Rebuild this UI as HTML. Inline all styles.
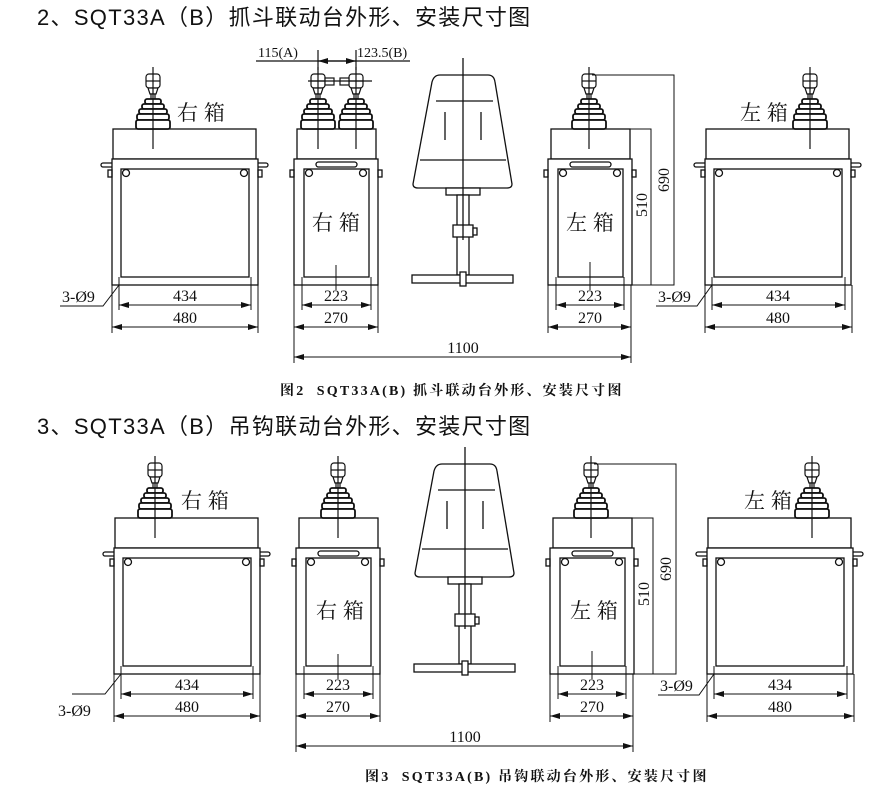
<!DOCTYPE html>
<html><head><meta charset="utf-8"><style>
html,body{margin:0;padding:0;background:#fff;}
svg{display:block;}
text{font-family:"Liberation Sans","Noto Sans CJK SC",sans-serif;fill:#111;}
.n{font-family:"Liberation Serif","Noto Serif CJK SC",serif;font-size:16px;}
.cn{font-family:"Liberation Sans","Noto Serif CJK SC",serif;font-size:21px;}
.cap{font-size:14px;font-weight:bold;letter-spacing:2.2px;font-family:'Liberation Serif','Noto Serif CJK SC',serif;}
.ttl{font-size:22px;letter-spacing:1.3px;}
</style></head><body>
<svg width="888" height="799" viewBox="0 0 888 799" xmlns="http://www.w3.org/2000/svg">
<defs>
<marker id="a" viewBox="0 0 10 6" refX="10" refY="3" markerWidth="10" markerHeight="6" orient="auto-start-reverse" markerUnits="userSpaceOnUse"><path d="M0,0L10,3L0,6z" fill="#111"/></marker>
<g id="joy" fill="#fff" stroke="#111" stroke-width="1.2">
  <rect x="-7" y="-55" width="14" height="14" rx="3"/>
  <line x1="-7" y1="-48" x2="7" y2="-48"/>
  <path d="M-5,-41 L5,-41 L3,-35 L-3,-35 Z"/>
  <rect x="-2" y="-35" width="4" height="5"/>
  <rect x="-8" y="-30" width="16" height="5" rx="2" stroke-width="1.8"/>
  <rect x="-11" y="-25" width="22" height="5" rx="2" stroke-width="1.8"/>
  <rect x="-14" y="-20" width="28" height="5" rx="2" stroke-width="1.8"/>
  <rect x="-16" y="-15" width="32" height="6" rx="2" stroke-width="1.8"/>
  <rect x="-17" y="-9" width="34" height="9" rx="2" stroke-width="1.8"/>
  <line x1="0" y1="-62" x2="0" y2="20"/>
</g>
<g id="big" fill="none" stroke="#111" stroke-width="1.3">
  <rect x="1" y="-30" width="143" height="30" fill="#fff"/>
  <rect x="-11" y="4" width="167" height="4" rx="2"/>
  <rect x="0" y="0" width="146" height="126" fill="#fff"/>
  <rect x="-4" y="11" width="4" height="7"/>
  <rect x="146" y="11" width="4" height="7"/>
  <rect x="9" y="10" width="128" height="108"/>
  <circle cx="14" cy="14" r="3.5"/>
  <circle cx="132" cy="14" r="3.5"/>
</g>
<g id="small" fill="none" stroke="#111" stroke-width="1.3">
  <rect x="3" y="-30" width="79" height="30" fill="#fff"/>
  <rect x="0" y="0" width="84" height="126" fill="#fff"/>
  <rect x="-4" y="11" width="4" height="7"/>
  <rect x="84" y="11" width="4" height="7"/>
  <rect x="10" y="10" width="65" height="108"/>
  <rect x="22" y="3" width="41" height="5" rx="2.5"/>
  <circle cx="15" cy="14" r="3.5"/>
  <circle cx="69" cy="14" r="3.5"/>
</g>
<g id="chair" fill="#fff" stroke="#111" stroke-width="1.3">
  <path d="M413,184 L432,82 Q434,75 440,75 L488,75 Q494,75 495,82 L512,184 Q512,188 507,188 L418,188 Q413,188 413,184 Z"/>
  <line x1="420" y1="160" x2="506" y2="160"/>
  <line x1="436" y1="101" x2="493" y2="101"/>
  <line x1="445" y1="112" x2="445" y2="140"/>
  <line x1="481" y1="112" x2="481" y2="140"/>
  <rect x="446" y="188" width="34" height="7"/>
  <rect x="457" y="195" width="12" height="80"/>
  <rect x="453" y="225" width="20" height="12"/>
  <rect x="473" y="228" width="4" height="7"/>
  <rect x="412" y="275" width="101" height="8"/>
  <rect x="460" y="272" width="6" height="14"/>
  <line x1="463" y1="58" x2="463" y2="240"/>
</g>
<g id="common" fill="none" stroke="#111" stroke-width="1">
  <use href="#big" transform="translate(112,159)"/>
  <use href="#joy" transform="translate(153,129)"/>
  <use href="#small" transform="translate(294,159)"/>
  <use href="#chair"/>
  <use href="#small" transform="translate(548,159)"/>
  <use href="#joy" transform="translate(589,129)"/>
  <use href="#big" transform="translate(705,159)"/>
  <use href="#joy" transform="translate(810,129)"/>
  <line x1="336" y1="265" x2="336" y2="290"/>
  <line x1="590" y1="262" x2="590" y2="290"/>
  <line x1="119" y1="277" x2="119" y2="310"/><line x1="251" y1="277" x2="251" y2="310"/>
  <line x1="112" y1="285" x2="112" y2="333"/><line x1="258" y1="285" x2="258" y2="333"/>
  <line x1="119" y1="305" x2="251" y2="305" marker-start="url(#a)" marker-end="url(#a)"/>
  <line x1="112" y1="327" x2="258" y2="327" marker-start="url(#a)" marker-end="url(#a)"/>
  <line x1="302" y1="277" x2="302" y2="310"/><line x1="371" y1="277" x2="371" y2="310"/>
  <line x1="294" y1="285" x2="294" y2="363"/><line x1="378" y1="285" x2="378" y2="333"/>
  <line x1="302" y1="305" x2="371" y2="305" marker-start="url(#a)" marker-end="url(#a)"/>
  <line x1="294" y1="327" x2="378" y2="327" marker-start="url(#a)" marker-end="url(#a)"/>
  <line x1="556" y1="277" x2="556" y2="310"/><line x1="624" y1="277" x2="624" y2="310"/>
  <line x1="548" y1="285" x2="548" y2="333"/><line x1="631" y1="285" x2="631" y2="363"/>
  <line x1="556" y1="305" x2="624" y2="305" marker-start="url(#a)" marker-end="url(#a)"/>
  <line x1="548" y1="327" x2="631" y2="327" marker-start="url(#a)" marker-end="url(#a)"/>
  <line x1="294" y1="357" x2="631" y2="357" marker-start="url(#a)" marker-end="url(#a)"/>
  <polyline points="629,129 651,129 651,285 631,285"/>
  <polyline points="592,75 674,75 674,285 651,285"/>
  <line x1="712" y1="277" x2="712" y2="310"/><line x1="845" y1="277" x2="845" y2="310"/>
  <line x1="705" y1="285" x2="705" y2="333"/><line x1="852" y1="285" x2="852" y2="333"/>
  <line x1="712" y1="305" x2="845" y2="305" marker-start="url(#a)" marker-end="url(#a)"/>
  <line x1="705" y1="327" x2="852" y2="327" marker-start="url(#a)" marker-end="url(#a)"/>
  <polyline points="656,306 697,306 712,285"/>
</g>
</defs>

<text class="ttl" x="37" y="25">2、SQT33A（B）抓斗联动台外形、安装尺寸图</text>
<use href="#common"/>
<polyline points="60,306 103,306 119,285" fill="none" stroke="#111"/>
<use href="#joy" transform="translate(318,129)"/>
<use href="#joy" transform="translate(356,129)"/>
<g stroke="#111" fill="#fff" stroke-width="1.2">
  <rect x="325" y="78" width="9" height="7"/>
  <rect x="340" y="78" width="9" height="7"/>
  <line x1="308" y1="81" x2="372" y2="81"/>
  <line x1="256" y1="61" x2="410" y2="61" fill="none"/>
  <line x1="318" y1="61" x2="356" y2="61" marker-start="url(#a)" marker-end="url(#a)"/>
  <line x1="318" y1="50" x2="318" y2="70"/>
  <line x1="356" y1="50" x2="356" y2="70"/>
</g>
<text class="n" x="258" y="57" style="font-size:14px">115(A)</text>
<text class="n" x="357" y="57" style="font-size:14px">123.5(B)</text>
<text class="cn" x="177" y="120">右 箱</text>
<text class="cn" x="312" y="230">右 箱</text>
<text class="cn" x="566" y="230">左 箱</text>
<text class="cn" x="740" y="120">左 箱</text>
<text class="n" text-anchor="middle" x="185" y="301">434</text><text class="n" text-anchor="middle" x="185" y="323">480</text>
<text class="n" text-anchor="middle" x="336" y="301">223</text><text class="n" text-anchor="middle" x="336" y="323">270</text>
<text class="n" text-anchor="middle" x="590" y="301">223</text><text class="n" text-anchor="middle" x="590" y="323">270</text>
<text class="n" text-anchor="middle" x="778" y="301">434</text><text class="n" text-anchor="middle" x="778" y="323">480</text>
<text class="n" text-anchor="middle" x="463" y="353">1100</text>
<text class="n" x="62" y="302">3-Ø9</text>
<text class="n" x="658" y="302">3-Ø9</text>
<text class="n" transform="translate(647,205) rotate(-90)" text-anchor="middle">510</text>
<text class="n" transform="translate(669,180) rotate(-90)" text-anchor="middle">690</text>
<text class="cap" x="280" y="395">图2&#160; SQT33A(B) 抓斗联动台外形、安装尺寸图</text>

<text class="ttl" x="37" y="434">3、SQT33A（B）吊钩联动台外形、安装尺寸图</text>
<g transform="translate(2,389)">
  <use href="#common"/>
  <use href="#joy" transform="translate(336,129)"/>
</g>
<polyline points="72,694 105,694 121,674" fill="none" stroke="#111"/>
<text class="cn" x="181" y="508">右 箱</text>
<text class="cn" x="316" y="618">右 箱</text>
<text class="cn" x="570" y="618">左 箱</text>
<text class="cn" x="744" y="508">左 箱</text>
<text class="n" text-anchor="middle" x="187" y="690">434</text><text class="n" text-anchor="middle" x="187" y="712">480</text>
<text class="n" text-anchor="middle" x="338" y="690">223</text><text class="n" text-anchor="middle" x="338" y="712">270</text>
<text class="n" text-anchor="middle" x="592" y="690">223</text><text class="n" text-anchor="middle" x="592" y="712">270</text>
<text class="n" text-anchor="middle" x="780" y="690">434</text><text class="n" text-anchor="middle" x="780" y="712">480</text>
<text class="n" text-anchor="middle" x="465" y="742">1100</text>
<text class="n" x="58" y="716">3-Ø9</text>
<text class="n" x="660" y="691">3-Ø9</text>
<text class="n" transform="translate(649,594) rotate(-90)" text-anchor="middle">510</text>
<text class="n" transform="translate(671,569) rotate(-90)" text-anchor="middle">690</text>
<text class="cap" x="365" y="781">图3&#160; SQT33A(B) 吊钩联动台外形、安装尺寸图</text>
</svg>
</body></html>
